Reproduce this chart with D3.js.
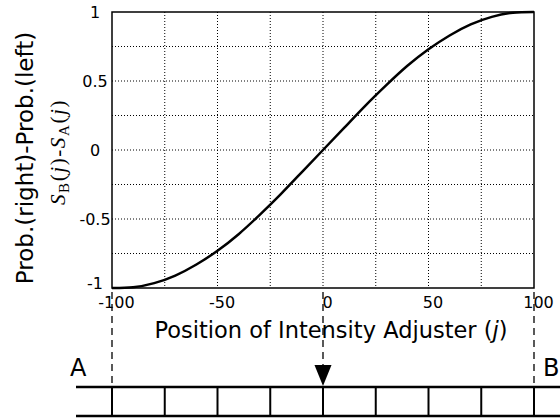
<!DOCTYPE html>
<html>
<head>
<meta charset="utf-8">
<script src="https://cdn.jsdelivr.net/npm/d3@7"></script>
<style>
  body { margin: 0; background: #fff; }
  svg { display: block; }
  text { font-family: "DejaVu Sans", sans-serif; fill: #000; }
  .grid line { stroke: #000; stroke-width: 1; stroke-dasharray: 1,2; }
</style>
</head>
<body>
<svg id="chart" width="560" height="420"></svg>
<script>
// values
let positions = [-100, -90, -80, -70, -60, -50, -40, -30, -20, -10, 0, 10, 20, 30, 40, 50, 60, 70, 80, 90, 100];
let probDiff = [-1, -0.995, -0.965, -0.91, -0.83, -0.73, -0.61, -0.47, -0.32, -0.16, 0, 0.16, 0.32, 0.47, 0.61, 0.73, 0.83, 0.91, 0.965, 0.995, 1];

let xTicks = [-100, -50, 0, 50, 100];
let yTicks = [-1, -0.5, 0, 0.5, 1];
let xGrid = [-75, -50, -25, 0, 25, 50, 75];
let yGrid = [-0.75, -0.5, -0.25, 0, 0.25, 0.5, 0.75];
let cells = [-100, -75, -50, -25, 0, 25, 50, 75, 100];   // adjuster slots
let guides = [-100, 0, 100];                                // dashed drop lines

let svg = d3.select("#chart"),
    margin = {top: 12, right: 26, bottom: 132, left: 112},
    width = +svg.attr("width"),
    height = +svg.attr("height");

let x = d3.scaleLinear()
    .domain([-100, 100])
    .range([margin.left, width - margin.right]);

let y = d3.scaleLinear()
    .domain([-1, 1])
    .range([height - margin.bottom, margin.top]);

// dotted grid
let grid = svg.append("g").attr("class", "grid");
grid.selectAll(".gx")
    .data(xGrid).enter()
    .append("line")
    .attr("x1", d => x(d)).attr("x2", d => x(d))
    .attr("y1", y(1)).attr("y2", y(-1));
grid.selectAll(".gy")
    .data(yGrid).enter()
    .append("line")
    .attr("x1", x(-100)).attr("x2", x(100))
    .attr("y1", d => y(d)).attr("y2", d => y(d));

// frame
svg.append("rect")
    .attr("x", x(-100)).attr("y", y(1))
    .attr("width", x(100) - x(-100))
    .attr("height", y(-1) - y(1))
    .attr("fill", "none")
    .attr("stroke", "#000")
    .attr("stroke-width", 1.5);

// axes (labels only)
let yAxis = svg.append("g")
    .attr("transform", "translate(" + x(-100) + ",0)")
    .call(d3.axisLeft(y).tickValues(yTicks).tickSize(0).tickFormat(d => String(d)));
yAxis.select(".domain").remove();
yAxis.selectAll("text")
    .attr("x", -17)
    .attr("dy", d => d === -1 ? "0" : "0.32em")
    .attr("text-anchor", "middle")
    .style("font-size", "16px")
    .style("font-family", "DejaVu Sans, sans-serif");

let xAxis = svg.append("g")
    .attr("transform", "translate(0," + y(-1) + ")")
    .call(d3.axisBottom(x).tickValues(xTicks).tickSize(0).tickFormat(d => String(d)));
xAxis.select(".domain").remove();
xAxis.selectAll("text")
    .attr("y", 20)
    .attr("dy", 0)
    .attr("dx", 4)
    .style("font-size", "16px")
    .style("font-family", "DejaVu Sans, sans-serif");

// curve
let line = d3.line()
    .x((d, i) => x(positions[i]))
    .y(d => y(d))
    .curve(d3.curveNatural);

svg.append("path")
    .datum(probDiff)
    .attr("fill", "none")
    .attr("stroke", "#000")
    .attr("stroke-width", 2.5)
    .attr("d", line);

// y labels
svg.append("text")
    .attr("transform", "translate(33," + 158 + ") rotate(-90)")
    .attr("text-anchor", "middle")
    .style("font-size", "23px")
    .text("Prob.(right)-Prob.(left)");

let sub = svg.append("text")
    .attr("transform", "translate(65," + 152 + ") rotate(-90)")
    .attr("text-anchor", "middle")
    .style("font-family", "Liberation Serif, serif")
    .style("font-size", "21px")
    .style("letter-spacing", "1.6px");
sub.append("tspan").style("font-style", "italic").text("S");
sub.append("tspan").attr("dy", 4).style("font-size", "15px").text("B");
sub.append("tspan").attr("dy", -4).text("(");
sub.append("tspan").style("font-style", "italic").text("j");
sub.append("tspan").text(")-");
sub.append("tspan").style("font-style", "italic").text("S");
sub.append("tspan").attr("dy", 4).style("font-size", "15px").text("A");
sub.append("tspan").attr("dy", -4).text("(");
sub.append("tspan").style("font-style", "italic").text("j");
sub.append("tspan").text(")");

// dashed guides down to the adjuster
let barTop = 387, barBottom = 416;
svg.selectAll(".guide")
    .data(guides).enter()
    .append("line")
    .attr("x1", d => x(d)).attr("x2", d => x(d))
    .attr("y1", y(-1) + 4)
    .attr("y2", d => d === 0 ? 365 : barTop)
    .attr("stroke", "#000")
    .attr("stroke-width", 1.3)
    .attr("stroke-dasharray", "7,5");

// x title
let xt = svg.append("text")
    .attr("x", 331).attr("y", 338)
    .attr("text-anchor", "middle")
    .style("font-size", "22.5px");
xt.append("tspan").text("Position of Intensity Adjuster (");
xt.append("tspan").style("font-style", "italic").text("j");
xt.append("tspan").text(")");

// adjuster bar
svg.append("line")
    .attr("x1", 76).attr("x2", width)
    .attr("y1", barTop).attr("y2", barTop)
    .attr("stroke", "#000").attr("stroke-width", 2.5);
svg.append("line")
    .attr("x1", 76).attr("x2", width)
    .attr("y1", barBottom).attr("y2", barBottom)
    .attr("stroke", "#000").attr("stroke-width", 2.5);
svg.selectAll(".cell")
    .data(cells).enter()
    .append("line")
    .attr("x1", d => x(d)).attr("x2", d => x(d))
    .attr("y1", barTop).attr("y2", barBottom)
    .attr("stroke", "#000").attr("stroke-width", 2);

// pointer at j = 0
svg.append("path")
    .attr("d", d3.line()([[x(0) - 8.5, 365], [x(0) + 8.5, 365], [x(0), barTop - 1]]) + "Z")
    .attr("fill", "#000");

svg.append("text").attr("x", 70).attr("y", 376).style("font-size", "24px").text("A");
svg.append("text").attr("x", 543).attr("y", 376).style("font-size", "24px").text("B");
</script>
</body>
</html>
